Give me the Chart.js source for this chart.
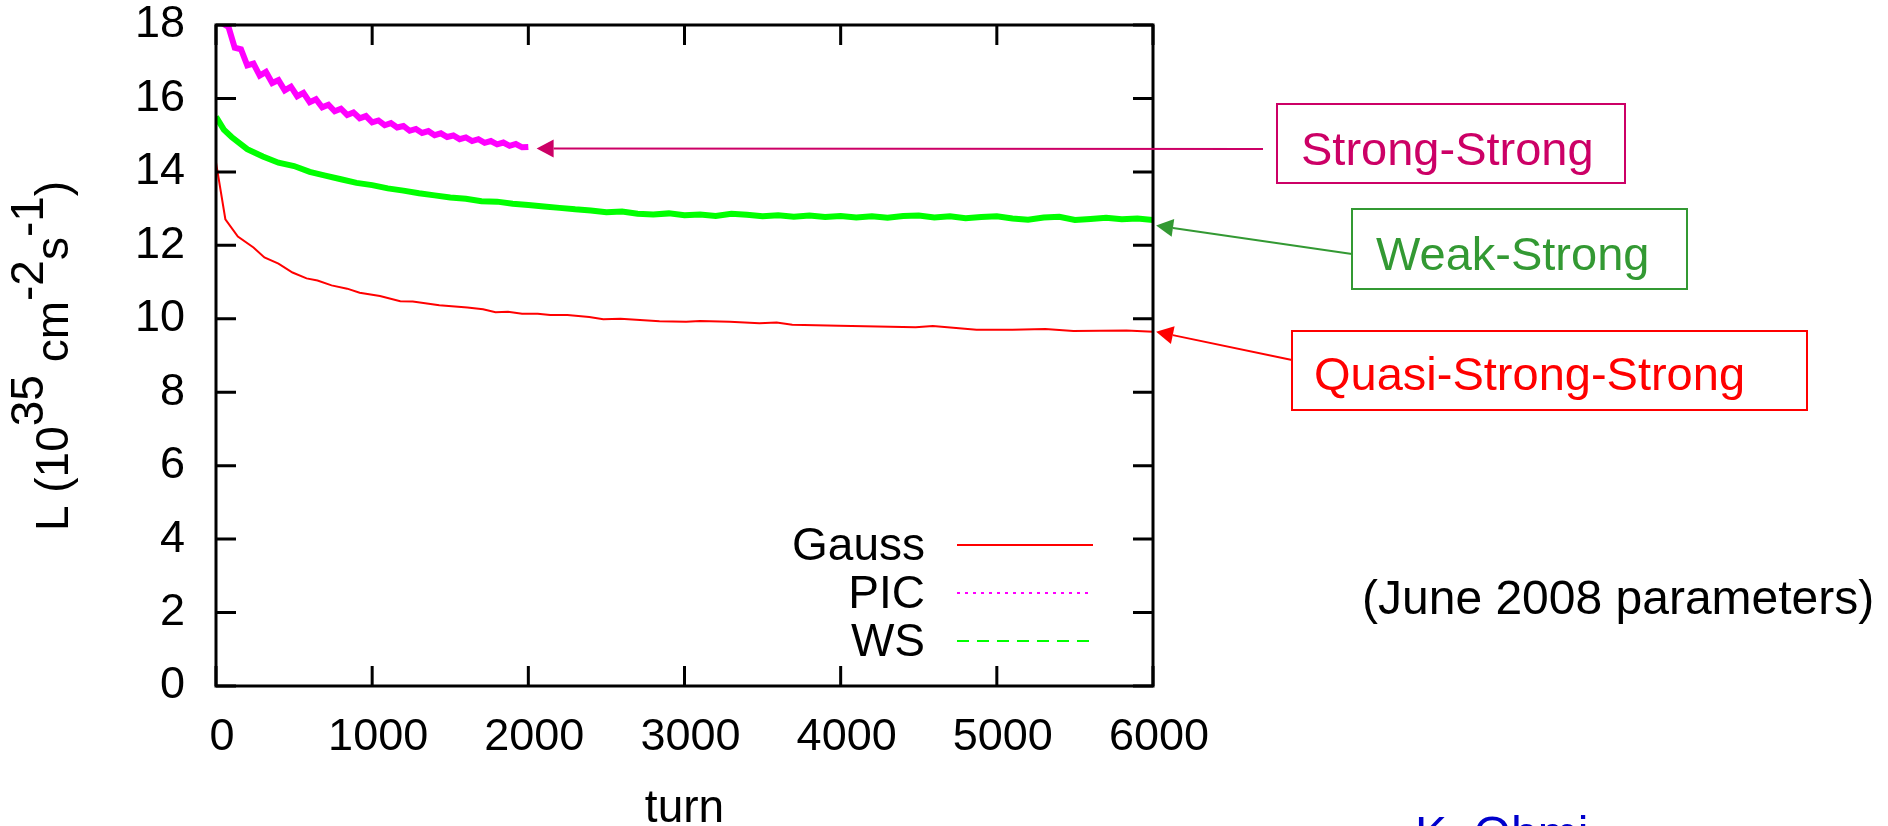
<!DOCTYPE html>
<html>
<head>
<meta charset="utf-8">
<title>Luminosity vs turn</title>
<script src="https://cdn.jsdelivr.net/npm/chart.js@4.4.1/dist/chart.umd.min.js"></script>
<style>
  html, body { margin: 0; padding: 0; background: #fff; }
  canvas { display: block; }
</style>
</head>
<body>
<canvas id="lumiChart" width="1888" height="826"></canvas>
<script>
// Data (turn, L in 10^35 cm^-2 s^-1)
const gaussTurns = [0, 60, 140, 240, 310, 400, 490, 580, 650, 740, 840, 920, 1050, 1180, 1260, 1430, 1610, 1710, 1790, 1870,
  1960, 2060, 2140, 2250, 2390, 2480, 2590, 2840, 3010, 3100, 3290, 3480, 3590, 3690, 3990, 4480, 4590, 4870, 5100, 5310,
  5490, 5830, 6000];
const gaussL = [14.26, 12.71, 12.24, 11.94, 11.67, 11.50, 11.26, 11.10, 11.04, 10.91, 10.82, 10.71, 10.62, 10.48, 10.47, 10.37, 10.31, 10.26, 10.18, 10.19,
  10.14, 10.14, 10.10, 10.10, 10.05, 9.99, 10.00, 9.93, 9.92, 9.94, 9.92, 9.88, 9.90, 9.84, 9.81, 9.77, 9.80, 9.70, 9.70, 9.72,
  9.67, 9.68, 9.65];

const picTurns = [0, 40, 80, 120, 160, 200, 240, 280, 320, 360, 400, 440, 480, 520, 560, 600, 640, 680, 720, 760,
  800, 840, 880, 920, 960, 1000, 1040, 1080, 1120, 1160, 1200, 1240, 1280, 1320, 1360, 1400, 1440, 1480, 1520, 1560,
  1600, 1640, 1680, 1720, 1760, 1800, 1840, 1880, 1920, 1960, 2000];
const picL = [18.5, 18.05, 17.95, 17.38, 17.34, 16.9, 16.95, 16.62, 16.72, 16.42, 16.5, 16.22, 16.32, 16.06, 16.15, 15.9, 15.98, 15.76, 15.83, 15.65,
  15.72, 15.55, 15.62, 15.46, 15.52, 15.35, 15.4, 15.27, 15.33, 15.21, 15.25, 15.12, 15.17, 15.06, 15.11, 15.0, 15.05, 14.95, 14.99, 14.89,
  14.94, 14.84, 14.89, 14.79, 14.84, 14.75, 14.8, 14.71, 14.76, 14.67, 14.68];

const wsTurns = [0, 50, 100, 200, 300, 400, 500, 600, 700, 800, 900, 1000, 1100, 1200, 1300, 1400, 1500, 1600, 1700, 1800,
  1900, 2000, 2100, 2200, 2300, 2400, 2500, 2600, 2700, 2800, 2900, 3000, 3100, 3200, 3300, 3400, 3500, 3600, 3700, 3800,
  3900, 4000, 4100, 4200, 4300, 4400, 4500, 4600, 4700, 4800, 4900, 5000, 5100, 5200, 5300, 5400, 5500, 5600, 5700, 5800,
  5900, 6000];
const wsL = [15.5, 15.15, 14.95, 14.62, 14.42, 14.25, 14.16, 14.0, 13.9, 13.8, 13.7, 13.64, 13.55, 13.49, 13.42, 13.36, 13.3, 13.27, 13.2, 13.19,
  13.13, 13.1, 13.06, 13.02, 12.98, 12.95, 12.9, 12.92, 12.86, 12.84, 12.87, 12.82, 12.84, 12.8, 12.86, 12.83, 12.79, 12.82, 12.78, 12.81,
  12.77, 12.8, 12.76, 12.79, 12.75, 12.8, 12.81, 12.76, 12.79, 12.74, 12.77, 12.79, 12.73, 12.7, 12.76, 12.78, 12.69, 12.72, 12.75, 12.71,
  12.73, 12.69];

const xTicks = [0, 1000, 2000, 3000, 4000, 5000, 6000];
const yTicks = [0, 2, 4, 6, 8, 10, 12, 14, 16, 18];

const FONT = '"Liberation Sans", Arial, sans-serif';

function toPoints(xs, ys) {
  return xs.map((x, i) => ({ x: x, y: ys[i] }));
}

// legend sample dash patterns (gnuplot style)
const legendDash = { Gauss: [], PIC: [3, 5], WS: [12, 8] };

// boxed labels with arrows pointing at the curve ends
const notes = [
  { text: "Strong-Strong", color: "#cc0066", box: [1277, 104, 348, 79], textAt: [1301, 165], from: [1263, 149], tip: [2053, 14.64] },
  { text: "Weak-Strong", color: "#339933", box: [1352, 209, 335, 80], textAt: [1376, 270], from: [1352, 254], tip: [6020, 12.54] },
  { text: "Quasi-Strong-Strong", color: "#ff0000", box: [1292, 331, 515, 79], textAt: [1314, 390], from: [1292, 360], tip: [6020, 9.65] },
];

const gnuplotDecor = {
  id: "gnuplotDecor",
  afterDatasetsDraw(chart) {
    const { ctx, chartArea: a, scales } = chart;
    const x = scales.x, y = scales.y;
    ctx.save();

    // frame with inward ticks on all sides
    ctx.strokeStyle = "#000";
    ctx.lineWidth = 3;
    ctx.strokeRect(a.left, a.top, a.right - a.left, a.bottom - a.top);
    ctx.beginPath();
    xTicks.forEach((v) => {
      const px = x.getPixelForValue(v);
      ctx.moveTo(px, a.bottom); ctx.lineTo(px, a.bottom - 20);
      ctx.moveTo(px, a.top); ctx.lineTo(px, a.top + 20);
    });
    yTicks.forEach((v) => {
      const py = y.getPixelForValue(v);
      ctx.moveTo(a.left, py); ctx.lineTo(a.left + 20, py);
      ctx.moveTo(a.right, py); ctx.lineTo(a.right - 20, py);
    });
    ctx.stroke();

    // legend
    ctx.font = "46px " + FONT;
    ctx.textAlign = "right";
    ctx.textBaseline = "middle";
    chart.data.datasets.forEach((ds, i) => {
      const rowY = 545 + i * 48;
      ctx.fillStyle = "#000";
      ctx.fillText(ds.label, 925, rowY + 2);
      ctx.strokeStyle = ds.borderColor;
      ctx.lineWidth = 2;
      ctx.setLineDash(legendDash[ds.label] || []);
      ctx.beginPath();
      ctx.moveTo(957, rowY);
      ctx.lineTo(1093, rowY);
      ctx.stroke();
    });
    ctx.setLineDash([]);

    // x axis title
    ctx.font = "46px " + FONT;
    ctx.textAlign = "center";
    ctx.textBaseline = "alphabetic";
    ctx.fillStyle = "#000";
    ctx.fillText("turn", (a.left + a.right) / 2, 822);

    // y axis title with superscripts
    const parts = [["L (10", 0], ["35", 1], [" cm", 0], ["-2", 1], ["s", 0], ["-1", 1], [")", 0]];
    ctx.font = "46px " + FONT;
    const total = parts.reduce((s, p) => s + ctx.measureText(p[0]).width, 0);
    ctx.translate(68, 356);
    ctx.rotate(-Math.PI / 2);
    ctx.textAlign = "left";
    let cx = -total / 2;
    parts.forEach((p) => {
      ctx.fillText(p[0], cx, p[1] ? -25 : 0);
      cx += ctx.measureText(p[0]).width;
    });
    ctx.setTransform(1, 0, 0, 1, 0, 0);

    // annotation boxes and arrows
    notes.forEach((n) => {
      ctx.strokeStyle = n.color;
      ctx.fillStyle = n.color;
      ctx.lineWidth = 2;
      ctx.strokeRect(n.box[0], n.box[1], n.box[2], n.box[3]);
      ctx.font = "47px " + FONT;
      ctx.textAlign = "left";
      ctx.fillText(n.text, n.textAt[0], n.textAt[1]);

      const tx = x.getPixelForValue(n.tip[0]);
      const ty = y.getPixelForValue(n.tip[1]);
      const ang = Math.atan2(ty - n.from[1], tx - n.from[0]);
      const hl = 17, hw = 9;
      const bx = tx - hl * Math.cos(ang), by = ty - hl * Math.sin(ang);
      ctx.beginPath();
      ctx.moveTo(n.from[0], n.from[1]);
      ctx.lineTo(bx, by);
      ctx.stroke();
      ctx.beginPath();
      ctx.moveTo(tx, ty);
      ctx.lineTo(bx + hw * Math.sin(ang), by - hw * Math.cos(ang));
      ctx.lineTo(bx - hw * Math.sin(ang), by + hw * Math.cos(ang));
      ctx.closePath();
      ctx.fill();
    });

    // side texts
    ctx.font = "48px " + FONT;
    ctx.fillStyle = "#000";
    ctx.fillText("(June 2008 parameters)", 1362, 614);
    ctx.fillStyle = "#0000cc";
    ctx.fillText("K. Ohmi", 1415, 850);

    ctx.restore();
  },
};

const ctx = document.getElementById("lumiChart").getContext("2d");
const lumiChart = new Chart(ctx, {
  type: "line",
  data: {
    datasets: [
      { label: "Gauss", data: toPoints(gaussTurns, gaussL), borderColor: "#ff0000", borderWidth: 2 },
      { label: "PIC", data: toPoints(picTurns, picL), borderColor: "#ff00ff", borderWidth: 6 },
      { label: "WS", data: toPoints(wsTurns, wsL), borderColor: "#00ff00", borderWidth: 6 },
    ],
  },
  options: {
    responsive: false,
    animation: false,
    devicePixelRatio: 1,
    elements: { point: { radius: 0 }, line: { tension: 0 } },
    layout: { padding: { top: 25, right: 735, left: 0, bottom: 0 } },
    plugins: { legend: { display: false }, tooltip: { enabled: false } },
    scales: {
      x: {
        type: "linear",
        min: 0,
        max: 6000,
        grid: { display: false, drawTicks: false },
        border: { display: false },
        afterBuildTicks: (scale) => { scale.ticks = xTicks.map((v) => ({ value: v })); },
        afterFit: (scale) => { scale.height = 140; scale.paddingLeft = 0; scale.paddingRight = 0; },
        ticks: {
          color: "#000",
          font: { family: FONT, size: 45, lineHeight: 1 },
          padding: 29,
          labelOffset: 6,
          maxRotation: 0,
          callback: (v) => String(v),
        },
      },
      y: {
        min: 0,
        max: 18,
        grid: { display: false, drawTicks: false },
        border: { display: false },
        afterBuildTicks: (scale) => { scale.ticks = yTicks.map((v) => ({ value: v })); },
        afterFit: (scale) => { scale.width = 216; scale.paddingTop = 0; scale.paddingBottom = 0; },
        ticks: {
          color: "#000",
          font: { family: FONT, size: 45, lineHeight: 1 },
          padding: 31,
          callback: (v) => String(v),
        },
      },
    },
  },
  plugins: [gnuplotDecor],
});
</script>
</body>
</html>
